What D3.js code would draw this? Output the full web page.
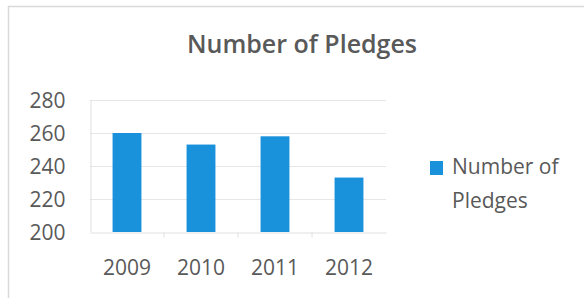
<!DOCTYPE html>
<html lang="en">
<head>
<meta charset="UTF-8">
<title>Number of Pledges</title>
<script src="https://d3js.org/d3.v7.min.js"></script>
<style>
  body { margin: 0; background: #fff; }
  text { font-family: "Open Sans", "Liberation Sans", sans-serif; fill: #595959; }
</style>
</head>
<body>
<script>

var years = ["2009", "2010", "2011", "2012"];
var pledges = [260, 253, 258, 233];
var yTicks = [200, 220, 240, 260, 280];

var width = 584,
    height = 298;

var margin = {left: 90, right: 198, top: 100, bottom: 66};

var svg = d3.select("body").append("svg")
    .attr("width", width)
    .attr("height", height);

// outer chart frame (only top and left edges show in the picture)
svg.append("path")
    .attr("d", "M8.5," + height + "V6.5H" + width)
    .attr("fill", "none")
    .attr("stroke", "#d9d9d9")
    .attr("stroke-width", 1.5);

var x = d3.scaleBand()
    .domain(years)
    .range([margin.left, width - margin.right])
    .paddingInner(0.61)
    .paddingOuter(0.305);

var y = d3.scaleLinear()
    .domain([200, 280])
    .range([height - margin.bottom, margin.top]);

// gridlines
svg.append("g")
    .selectAll("line")
    .data(yTicks.slice(1))
    .join("line")
    .attr("x1", margin.left)
    .attr("x2", width - margin.right)
    .attr("y1", d => y(d) + 0.5)
    .attr("y2", d => y(d) + 0.5)
    .attr("stroke", "#e6e6e6");

// y axis
var yAxis = svg.append("g")
    .attr("transform", "translate(" + (margin.left + 0.5) + ",0)")
    .call(d3.axisLeft(y).tickValues(yTicks).tickSize(0).tickPadding(25));
yAxis.select(".domain").attr("stroke", "#e0e0e0");
yAxis.selectAll("text")
    .style("font-size", "21px")
    .attr("dy", "0.36em");

// x axis with ticks between categories
var xAxis = svg.append("g")
    .attr("transform", "translate(0," + (y(200) + 0.5) + ")")
    .call(d3.axisBottom(x).tickSize(0).tickPadding(28));
xAxis.select(".domain").attr("stroke", "#e0e0e0");
xAxis.selectAll("text").style("font-size", "21px");
xAxis.append("g")
    .selectAll("line")
    .data(years.slice(1))
    .join("line")
    .attr("x1", d => x(d) - x.step() * x.paddingInner() / 2)
    .attr("x2", d => x(d) - x.step() * x.paddingInner() / 2)
    .attr("y1", 0)
    .attr("y2", 5)
    .attr("stroke", "#e0e0e0");

// bars
svg.append("g")
    .selectAll("rect")
    .data(pledges)
    .join("rect")
    .attr("x", (d, i) => x(years[i]))
    .attr("y", d => y(d))
    .attr("width", x.bandwidth())
    .attr("height", d => y(200) - y(d))
    .attr("fill", "#1a91db");

// title
svg.append("text")
    .attr("x", 302)
    .attr("y", 53)
    .attr("text-anchor", "middle")
    .style("font-size", "25px")
    .style("font-weight", 600)
    .text("Number of Pledges");

// legend
var legend = svg.append("g").attr("transform", "translate(430,161)");
legend.append("rect")
    .attr("width", 13)
    .attr("height", 14)
    .attr("fill", "#1a91db");
legend.append("text")
    .attr("x", 22)
    .attr("y", 13)
    .style("font-size", "21px")
    .text("Number of");
legend.append("text")
    .attr("x", 22)
    .attr("y", 47)
    .style("font-size", "21px")
    .text("Pledges");

</script>
</body>
</html>
